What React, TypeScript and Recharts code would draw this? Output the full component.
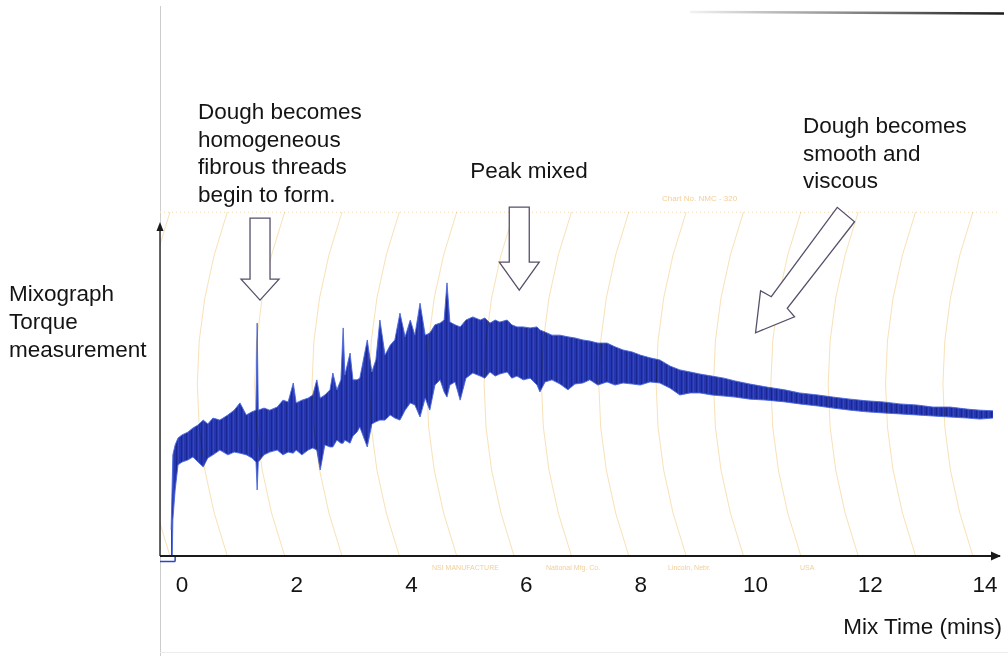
import React from 'react';
import { ComposedChart, Area, XAxis, YAxis, ReferenceLine, ReferenceDot, Label, CartesianGrid } from 'recharts';

const W = 1008;
const H = 656;
const FONT = '"Liberation Sans", Arial, Helvetica, sans-serif';

// Mix time (minutes) of each reading of the trace envelope
const minutes = [
  -0.19, -0.17, -0.16, -0.12, -0.07, 0, 0.1, 0.19, 0.28, 0.37,
  0.45, 0.54, 0.66, 0.8, 0.91, 1.01, 1.12, 1.22, 1.29, 1.31,
  1.33, 1.43, 1.53, 1.66, 1.76, 1.85, 1.94, 1.99, 2.09, 2.2,
  2.28, 2.35, 2.41, 2.49, 2.58, 2.63, 2.7, 2.77, 2.81, 2.84,
  2.93, 2.98, 3.05, 3.1, 3.23, 3.31, 3.38, 3.45, 3.54, 3.63,
  3.71, 3.8, 3.89, 3.98, 4.06, 4.15, 4.24, 4.32, 4.41, 4.5,
  4.57, 4.62, 4.67, 4.76, 4.85, 4.95, 5.07, 5.2, 5.28, 5.37,
  5.46, 5.54, 5.67, 5.75, 5.84, 5.95, 6.07, 6.19, 6.24, 6.33,
  6.45, 6.59, 6.73, 6.85, 6.99, 7.11, 7.25, 7.41, 7.55, 7.69,
  7.85, 7.99, 8.16, 8.33, 8.51, 8.68, 8.86, 9.03, 9.24, 9.45,
  9.64, 9.9, 10.2, 10.51, 10.77, 11.09, 11.35, 11.65, 11.94, 12.22,
  12.52, 12.81, 13.09, 13.39, 13.69, 13.91, 14.14,
];

// Upper edge of the torque trace (arbitrary torque units, 0-100)
const torqueHigh = [
  7.6, 22.1, 29.4, 32.3, 34.3, 35.2, 36.0, 37.2, 38.1, 39.5,
  38.4, 40.1, 39.5, 41.0, 42.4, 44.5, 41.0, 41.9, 42.4, 67.7,
  42.4, 43.0, 42.4, 43.3, 45.3, 44.8, 50.3, 44.5, 45.3, 45.9,
  46.8, 51.2, 45.9, 46.8, 48.3, 53.2, 48.3, 51.2, 66.3, 52.6,
  59.0, 51.2, 51.2, 51.7, 62.8, 53.5, 57.0, 68.6, 58.4, 61.3,
  62.8, 70.6, 63.7, 68.6, 64.2, 73.5, 64.2, 64.8, 67.2, 67.7,
  68.6, 79.4, 68.0, 67.2, 66.6, 68.6, 69.5, 68.6, 69.2, 67.7,
  68.6, 68.0, 68.6, 67.2, 66.6, 66.6, 66.3, 66.6, 65.7, 65.1,
  64.2, 64.2, 63.7, 63.4, 62.8, 62.5, 61.9, 61.9, 60.8, 59.9,
  59.3, 58.4, 57.6, 57.0, 55.2, 54.1, 53.5, 52.9, 52.3, 51.7,
  50.9, 50.0, 49.1, 48.3, 47.4, 46.8, 46.2, 45.6, 45.1, 44.8,
  44.2, 43.9, 43.3, 43.3, 42.7, 42.4, 42.2,
];

// Lower edge of the torque trace
const torqueLow = [
  0, 0, 10.5, 19.2, 26.5, 27.3, 27.9, 28.8, 27.3, 25.9,
  28.5, 29.4, 30.8, 29.4, 30.2, 29.9, 29.4, 28.5, 27.3, 19.2,
  27.3, 29.4, 30.2, 30.8, 29.4, 30.2, 29.9, 30.8, 29.4, 30.8,
  31.4, 30.8, 25.0, 32.3, 31.7, 31.7, 33.7, 32.8, 32.8, 33.7,
  32.8, 34.9, 36.0, 37.5, 31.7, 38.4, 39.0, 39.5, 39.5, 41.0,
  40.1, 39.5, 42.4, 44.5, 43.9, 40.4, 45.9, 42.4, 49.7, 51.2,
  47.7, 46.2, 49.7, 50.6, 45.3, 51.7, 53.2, 52.3, 51.7, 53.5,
  52.3, 52.9, 53.5, 51.7, 52.3, 51.2, 51.7, 49.7, 47.7, 50.6,
  51.2, 50.0, 48.3, 50.0, 50.3, 51.2, 49.7, 50.6, 49.7, 50.3,
  50.0, 49.7, 50.6, 50.3, 48.8, 46.8, 47.4, 47.4, 46.8, 46.5,
  46.2, 45.6, 45.3, 44.8, 44.2, 43.6, 43.0, 42.4, 41.9, 41.6,
  41.3, 41.0, 40.7, 40.4, 40.1, 39.8, 40.1,
];

const xTicks = [0, 2, 4, 6, 8, 10, 12, 14];

// Chart-paper arcs (minute where each arc meets the base line) and rows
const paperArcs = [-0.21, 0.79, 1.79, 2.79, 3.79, 4.79, 5.79, 6.79, 7.79, 8.79, 9.79, 10.79, 11.79, 12.79, 13.79];
const paperRows = [9, 19.2, 29.4, 39.5, 49.7, 59.9, 70.1, 80.2, 90.4];

const annotationLow = ['Dough becomes', 'homogeneous', 'fibrous threads', 'begin to form.'];
const annotationPeak = ['Peak mixed'];
const annotationLate = ['Dough becomes', 'smooth and', 'viscous'];
const yLabelLines = ['Mixograph', 'Torque', 'measurement'];

const X_DOMAIN: [number, number] = [-0.384, 14.262];
const Y_DOMAIN: [number, number] = [0, 100];

const data = minutes.map((m, i) => ({ m, lo: torqueLow[i], hi: torqueHigh[i] }));

const TEXT = { fontFamily: FONT, fontSize: 22.5, fill: '#141414' };

const arcShape = (p: any) => {
  const { x1, y1, x2, y2 } = p;
  const ym = (y1 + y2) / 2;
  return (
    <path
      d={`M${x1},${y1} Q${x1 - 60},${ym} ${x2},${y2}`}
      fill="none"
      stroke="#f6d9a4"
      strokeOpacity={0.8}
      strokeWidth={1}
      clipPath={p.clipPath}
      style={{ mixBlendMode: 'multiply' }}
    />
  );
};

const arrowAnnotation = (
  pts: [number, number][],
  lines: string[],
  dx: number,
  dy: number,
) => (p: any) => {
  const { cx, cy } = p;
  const d = pts.map(([a, b], i) => `${i === 0 ? 'M' : 'L'}${cx + a},${cy + b}`).join(' ') + ' Z';
  return (
    <g>
      <path d={d} fill="#ffffff" stroke="#56506a" strokeWidth={1.3} strokeLinejoin="miter" />
      {lines.map((t, i) => (
        <text key={i} x={cx + dx} y={cy + dy + i * 27.7} {...TEXT}>
          {t}
        </text>
      ))}
    </g>
  );
};

const downArrowA: [number, number][] = [[0, 0], [-19, -21], [-10, -21], [-10, -82], [10, -82], [10, -21], [19, -21]];
const downArrowB: [number, number][] = [[0, 0], [-20, -28], [-10, -28], [-10, -83], [10, -83], [10, -28], [20, -28]];
const diagArrow: [number, number][] = [[0, 0], [5, -42], [15.7, -36], [81.7, -125.4], [99, -111], [31.7, -24.4], [39, -16]];

const xArrowHead = (p: any) => (
  <path d={`M${p.cx + 1},${p.cy} L${p.cx - 9},${p.cy - 4.5} L${p.cx - 9},${p.cy + 4.5} Z`} fill="#1a1a1a" />
);
const yArrowHead = (p: any) => (
  <path d={`M${p.cx},${p.cy} L${p.cx - 3.5},${p.cy + 9} L${p.cx + 3.5},${p.cy + 9} Z`} fill="#1a1a1a" />
);

const XLabel = (props: any) => {
  const vb = props.viewBox || {};
  return (
    <text x={vb.x + vb.width + 2} y={vb.y + 78} textAnchor="end" {...TEXT}>
      Mix Time (mins)
    </text>
  );
};

const YLabel = (props: any) => {
  const vb = props.viewBox || {};
  return (
    <g>
      {yLabelLines.map((t, i) => (
        <text key={i} x={vb.x - 150} y={vb.y + 89 + i * 28} {...TEXT}>
          {t}
        </text>
      ))}
    </g>
  );
};

export default function App() {
  return (
    <div style={{ position: 'absolute', left: 0, top: 0, width: W, height: H, background: '#ffffff', overflow: 'hidden' }}>
      <svg width={W} height={H} style={{ position: 'absolute', left: 0, top: 0 }}>
        <defs>
          <linearGradient id="scanEdge" x1="0" x2="1" y1="0" y2="0">
            <stop offset="0" stopColor="#000" stopOpacity={0.05} />
            <stop offset="0.5" stopColor="#000" stopOpacity={0.45} />
            <stop offset="1" stopColor="#000" stopOpacity={0.9} />
          </linearGradient>
          <pattern id="hair" width="5" height="12" patternUnits="userSpaceOnUse">
            <rect width="5" height="12" fill="#2535ae" />
            <rect x="1" width="1" height="12" fill="#1a2792" />
            <rect x="3" width="1" height="12" fill="#3146c0" />
          </pattern>
        </defs>
        <line x1={160.5} y1={6} x2={160.5} y2={656} stroke="#cdcdcd" strokeWidth={1} />
        <line x1={690} y1={12} x2={1004} y2={13.5} stroke="url(#scanEdge)" strokeWidth={2.5} />
        <line x1={160} y1={652.5} x2={1008} y2={652.5} stroke="#ececec" strokeWidth={1} />
        <line x1={160} y1={212.5} x2={1000} y2={212.5} stroke="#f3dcb4" strokeWidth={1} strokeDasharray="1 3" />
        <text x={662} y={201} fontFamily={FONT} fontSize={8} fill="#f2cf98">Chart No. NMC - 320</text>
        <text x={432} y={570} fontFamily={FONT} fontSize={7} fill="#f2cf98">NSI MANUFACTURE</text>
        <text x={546} y={570} fontFamily={FONT} fontSize={7} fill="#f2cf98">National Mfg. Co.</text>
        <text x={668} y={570} fontFamily={FONT} fontSize={7} fill="#f2cf98">Lincoln, Nebr.</text>
        <text x={800} y={570} fontFamily={FONT} fontSize={7} fill="#f2cf98">USA</text>
      </svg>
      <div style={{ position: 'absolute', left: 0, top: 0 }}>
        <ComposedChart width={W} height={H} data={data} margin={{ top: 212, right: 8, bottom: 70, left: 159 }}>
          <CartesianGrid vertical={false} stroke="#f9ead2" strokeDasharray="1 3" />
          <XAxis
            type="number"
            dataKey="m"
            domain={X_DOMAIN}
            ticks={xTicks}
            interval={0}
            allowDataOverflow
            axisLine={{ stroke: '#1a1a1a', strokeWidth: 2 }}
            tickLine={false}
            tickSize={6}
            tickMargin={14}
            height={30}
            tick={{ fontSize: 22.5, fill: '#141414', fontFamily: FONT }}
          >
            <Label content={XLabel} />
          </XAxis>
          <YAxis
            type="number"
            domain={Y_DOMAIN}
            ticks={paperRows}
            interval={0}
            allowDataOverflow
            width={1}
            axisLine={false}
            tickLine={false}
            tick={false}
          >
            <Label content={YLabel} />
          </YAxis>
          {paperArcs.map((m) => (
            <ReferenceLine
              key={`a${m}`}
              segment={[{ x: m, y: 0 }, { x: m, y: 100 }]}
              ifOverflow="hidden"
              shape={arcShape}
            />
          ))}
          <Area
            type="linear"
            dataKey={(d: any) => [d.lo, d.hi]}
            stroke="#4a66de"
            strokeWidth={0.9}
            fill="url(#hair)"
            fillOpacity={1}
            dot={false}
            activeDot={false}
            isAnimationActive={false}
          />
          <ReferenceLine
            segment={[{ x: -0.384, y: 0 }, { x: -0.384, y: 96 }]}
            stroke="#333"
            strokeWidth={1.5}
            ifOverflow="visible"
          />
          <ReferenceLine
            segment={[{ x: -0.384, y: -1.6 }, { x: -0.12, y: -1.6 }]}
            stroke="#2a45c8"
            strokeWidth={1.5}
            ifOverflow="visible"
          />
          <ReferenceLine
            segment={[{ x: -0.12, y: -1.6 }, { x: -0.12, y: 0 }]}
            stroke="#2a45c8"
            strokeWidth={1.5}
            ifOverflow="visible"
          />
          <ReferenceDot x={14.262} y={0} ifOverflow="visible" shape={xArrowHead} />
          <ReferenceDot x={-0.384} y={97.1} ifOverflow="visible" shape={yArrowHead} />
          <ReferenceDot x={1.36} y={74.4} ifOverflow="visible" shape={arrowAnnotation(downArrowA, annotationLow, -62, -181)} />
          <ReferenceDot x={5.88} y={77.3} ifOverflow="visible" shape={arrowAnnotation(downArrowB, annotationPeak, -49, -112)} />
          <ReferenceDot x={10.0} y={64.9} ifOverflow="visible" shape={arrowAnnotation(diagArrow, annotationLate, 47.4, -199.7)} />
        </ComposedChart>
      </div>
    </div>
  );
}
